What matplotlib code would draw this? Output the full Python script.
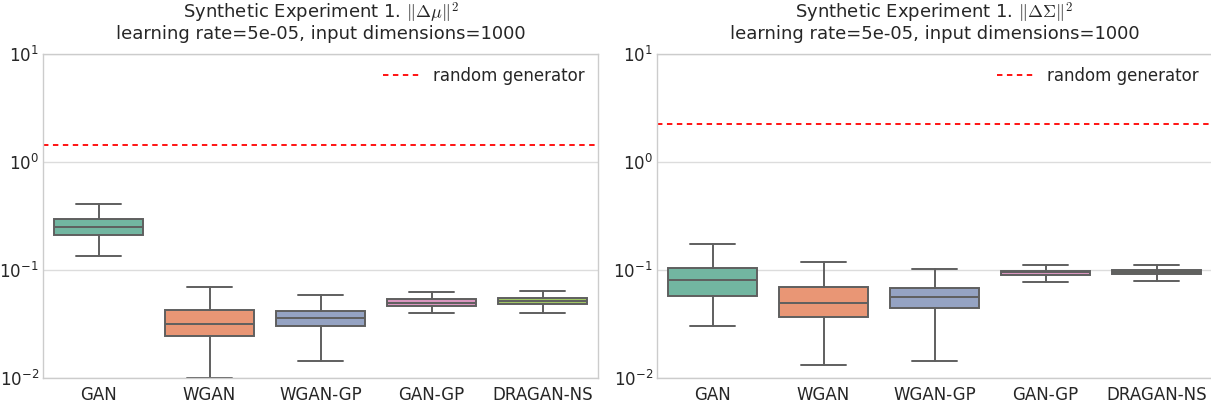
import matplotlib
matplotlib.use("Agg")
import matplotlib.pyplot as plt
from matplotlib.ticker import FuncFormatter
import seaborn as sns
import numpy as np

methods = ["GAN", "WGAN", "WGAN-GP", "GAN-GP", "DRAGAN-NS"]

# Five-number summaries per method: whisker low, Q1, median, Q3, whisker high
mu_whislo = [0.136, 0.0100, 0.0143, 0.0396, 0.0396]
mu_q1 = [0.213, 0.0244, 0.0304, 0.0464, 0.0482]
mu_med = [0.251, 0.0314, 0.0356, 0.0500, 0.0518]
mu_q3 = [0.294, 0.0422, 0.0414, 0.0542, 0.0552]
mu_whishi = [0.412, 0.0697, 0.0584, 0.0632, 0.0645]
mu_random = 1.43

sig_whislo = [0.0302, 0.0132, 0.0143, 0.0769, 0.0797]
sig_q1 = [0.0571, 0.0366, 0.0443, 0.0893, 0.0910]
sig_med = [0.0803, 0.0496, 0.0564, 0.0951, 0.0958]
sig_q3 = [0.1043, 0.0697, 0.0682, 0.0986, 0.1010]
sig_whishi = [0.174, 0.1177, 0.102, 0.1112, 0.1112]
sig_random = 2.24

titles = [r"Synthetic Experiment 1. $\|\Delta\mu\|^2$" + "\nlearning rate=5e-05, input dimensions=1000",
          r"Synthetic Experiment 1. $\|\Delta\Sigma\|^2$" + "\nlearning rate=5e-05, input dimensions=1000"]

sns.set_style("whitegrid")
plt.rcParams["font.family"] = ["DejaVu Sans"]
plt.rcParams["mathtext.fontset"] = "dejavusans"

palette = sns.color_palette("Set2", 5, desat=0.75)
edge = "#5f5f5f"


def decade_label(v, pos):
    k = int(round(np.log10(v)))
    exp = "-" + str(-k) if k < 0 else str(k)
    return r"$10^{\mathregular{%s}}$" % exp


fig = plt.figure(figsize=(12.11, 4.04), dpi=100)
ax1 = fig.add_axes([43 / 1211, 1 - 378 / 404, 555 / 1211, 324 / 404])
ax2 = fig.add_axes([657 / 1211, 1 - 378 / 404, 555 / 1211, 324 / 404])


def draw(ax, lo, q1, med, q3, hi, rnd, title):
    stats = []
    for i, m in enumerate(methods):
        stats.append(dict(label=m, whislo=lo[i], q1=q1[i], med=med[i],
                          q3=q3[i], whishi=hi[i], fliers=[]))
    bp = ax.bxp(stats, positions=np.arange(len(methods)), widths=0.8,
                patch_artist=True, showfliers=False,
                boxprops=dict(edgecolor=edge, linewidth=1.4),
                medianprops=dict(color=edge, linewidth=1.4),
                whiskerprops=dict(color=edge, linewidth=1.4),
                capprops=dict(color=edge, linewidth=1.4))
    for patch, c in zip(bp["boxes"], palette):
        patch.set_facecolor(c)
    for cap in bp["caps"]:
        x = cap.get_xdata()
        mid = x.mean()
        cap.set_xdata([mid - 0.2, mid + 0.2])
    ax.axhline(rnd, color="red", linestyle="--", linewidth=1.3,
               label="random generator", dashes=(3, 2.5))
    ax.set_yscale("log")
    ax.set_ylim(1e-2, 1e1)
    ax.yaxis.set_major_formatter(FuncFormatter(decade_label))
    ax.set_xlim(-0.5, len(methods) - 0.5)
    ax.set_xticks(np.arange(len(methods)))
    ax.set_xticklabels(methods)
    ax.tick_params(axis="both", labelsize=12, colors="#262626", length=0)
    ax.tick_params(axis="x", pad=6)
    ax.tick_params(axis="y", pad=3)
    ax.tick_params(axis="y", which="minor", length=0)
    ax.grid(axis="x", visible=False)
    ax.grid(axis="y", which="major", color="#dcdcdc", linewidth=1)
    ax.set_title(title, fontsize=13, color="#262626", pad=11,
                 linespacing=0.95, math_fontfamily="cm")
    leg = ax.legend(loc="upper right", frameon=False, fontsize=12,
                    handlelength=2.2, borderaxespad=0.4)
    for t in leg.get_texts():
        t.set_color("#262626")
    for s in ax.spines.values():
        s.set_color("#cccccc")
        s.set_linewidth(1)


draw(ax1, mu_whislo, mu_q1, mu_med, mu_q3, mu_whishi, mu_random, titles[0])
draw(ax2, sig_whislo, sig_q1, sig_med, sig_q3, sig_whishi, sig_random, titles[1])

fig.savefig("out.png", dpi=100)
